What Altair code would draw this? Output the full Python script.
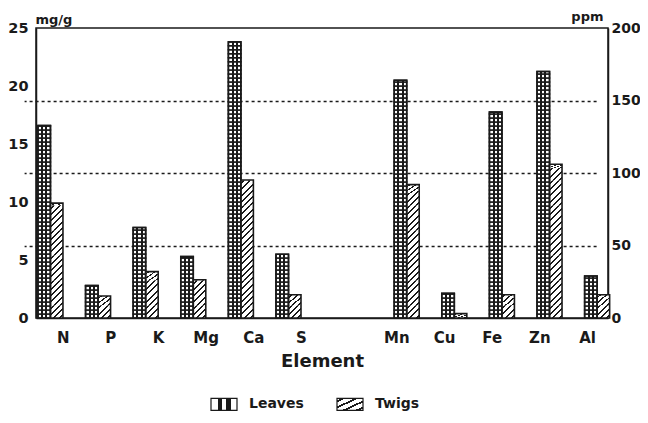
import altair as alt
import pandas as pd

# ---- data ----
elements = ["N", "P", "K", "Mg", "Ca", "S", "Mn", "Cu", "Fe", "Zn", "Al"]
units = ["mg/g"] * 6 + ["ppm"] * 5
leaves = [16.6, 2.8, 7.8, 5.3, 23.8, 5.5, 164, 17, 142, 170, 29]
twigs = [9.9, 1.9, 4.0, 3.3, 11.9, 2.0, 92, 3, 16, 106, 16]
parts = ["Leaves", "Twigs"]
x_domain = elements[:6] + [" "] + elements[6:]
mg_ticks = [0, 5, 10, 15, 20, 25]
ppm_ticks = [0, 50, 100, 150, 200]

rows = []
for e, u, l, t in zip(elements, units, leaves, twigs):
    rows.append({"element": e, "unit": u, "part": "Leaves", "value": l})
    rows.append({"element": e, "unit": u, "part": "Twigs", "value": t})
df = pd.DataFrame(rows)

INK = "#1a1a1a"
FONT = "DejaVu Sans"
W, H = 572, 290


def stops_js(stops):
    return "[" + ", ".join("{offset: %g, color: '%s'}" % (o, c) for o, c in stops) + "]"


grid_stops = [(0, "white"), (0.25, "white"), (0.25, INK), (0.41, INK), (0.41, "white"),
              (0.59, "white"), (0.59, INK), (0.75, INK), (0.75, "white"), (1, "white")]
hatch_stops = []
for k in range(4):
    b = k * 0.25
    hatch_stops += [(b, "white"), (b + 0.09, "white"), (b + 0.09, INK),
                    (b + 0.17, INK), (b + 0.17, "white")]
hatch_stops.append((1, "white"))

grid_expr = "{gradient: 'linear', x1: 0, y1: 0, x2: 1, y2: 0, stops: %s}" % stops_js(grid_stops)
hatch_expr = "{gradient: 'linear', x1: 0, y1: 0, x2: 1, y2: 1, stops: %s}" % stops_js(hatch_stops)

legend = alt.Legend(
    orient="none", legendX=174, legendY=362, direction="horizontal", title=None,
    symbolType="M-1,-0.46H1V0.46H-1Z", symbolSize=676, symbolStrokeColor=INK,
    symbolStrokeWidth=1.2, symbolOpacity=1, labelFont=FONT, labelFontWeight="bold",
    labelFontSize=14, labelColor=INK, labelOffset=11, columnPadding=30,
)
fill_enc = alt.Fill("part:N", scale=alt.Scale(domain=parts, range=[{"expr": grid_expr}, {"expr": hatch_expr}]),
                    legend=legend)

band = dict(domain=x_domain, paddingInner=0.475, paddingOuter=0.245, align=0.56)

# axis carrier (labels centred in each slot)
x_axis_enc = alt.X(
    "element:N",
    scale=alt.Scale(**band),
    axis=alt.Axis(title="Element", labelAngle=0, ticks=False, labelPadding=12, labelFontSize=15,
                  titleFontSize=18, titleY=48, titleBaseline="alphabetic",
                  domainColor=INK, domainWidth=1.5),
)


def x_bars(shift):
    return alt.X("element:N", scale=alt.Scale(range=[shift, W + shift], **band), axis=None)


xoff = alt.XOffset("part:N", scale=alt.Scale(domain=parts, paddingInner=0, paddingOuter=0))

mg_scale = alt.Scale(domain=[0, 25], nice=False)
ppm_scale = alt.Scale(domain=[0, 200], nice=False)
mg_axis = alt.Axis(values=mg_ticks, title="mg/g", orient="left", titleAngle=0, titleAlign="left",
                   titleX=-1, titleY=-5, titleBaseline="alphabetic", titleFontSize=13,
                   labelFontSize=14.5, labelPadding=8, ticks=False, grid=False,
                   domainColor=INK, domainWidth=1.5)
ppm_axis = alt.Axis(values=ppm_ticks, title="ppm", orient="right", titleAngle=0, titleAlign="right",
                    titleX=-5, titleY=-8, titleBaseline="alphabetic", titleFontSize=13,
                    labelFontSize=14, labelPadding=3, ticks=False, grid=True, gridDash=[3, 3],
                    gridColor=INK, gridWidth=1.5, domainColor=INK, domainWidth=1.5,
                    gridOpacity={"condition": {"test": "datum.value <= 0 || datum.value >= 200", "value": 0},
                                 "value": 1})


def group(unit, grid_step, tile_step, y_scale, y_axis, shift):
    xb = x_bars(shift)
    base = alt.Chart(df).transform_filter(alt.datum.unit == unit)
    leaves_seg = (
        base.transform_filter(alt.datum.part == "Leaves")
        .transform_calculate(seg=f"sequence(0, datum.value, {grid_step})")
        .transform_flatten(["seg"])
        .transform_calculate(seg2=f"min(datum.seg + {grid_step}, datum.value)")
        .mark_bar(stroke=INK, strokeWidth=1.5)
        .encode(x=xb, xOffset=xoff, y=alt.Y("seg:Q", scale=y_scale, axis=y_axis),
                y2="seg2:Q", fill=fill_enc)
    )
    twigs_seg = (
        base.transform_filter(alt.datum.part == "Twigs")
        .transform_calculate(seg=f"sequence(0, datum.value, {tile_step})")
        .transform_flatten(["seg"])
        .transform_calculate(seg2=f"min(datum.seg + {tile_step}, datum.value)")
        .mark_bar(strokeWidth=0)
        .encode(x=xb, xOffset=xoff, y=alt.Y("seg:Q", scale=y_scale, axis=None),
                y2="seg2:Q", fill=fill_enc)
    )
    outline = base.mark_bar(fillOpacity=0, stroke=INK, strokeWidth=1.6).encode(
        x=xb, xOffset=xoff, y=alt.Y("value:Q", scale=y_scale, axis=None)
    )
    return [leaves_seg, twigs_seg, outline]


axis_layer = alt.Chart(df).mark_point(opacity=0).encode(
    x=x_axis_enc, y=alt.Y("value:Q", axis=None)
)

layers = ([axis_layer]
          + group("mg/g", 0.345, 1.078, mg_scale, mg_axis, -11.1)
          + group("ppm", 2.76, 8.62, ppm_scale, ppm_axis, 11.9))

chart = (
    alt.layer(*layers)
    .resolve_scale(y="independent", x="independent")
    .properties(width=W, height=H, autosize=alt.AutoSizeParams(type="none"),
                padding={"left": 28, "top": 20, "right": 32, "bottom": 95},
                background="white")
    .configure_view(stroke=INK, strokeWidth=1.5)
    .configure_axis(labelFont=FONT, titleFont=FONT, labelFontWeight="bold", titleFontWeight="bold",
                    labelColor=INK, titleColor=INK)
)

chart.save("out.html", embed_options={"renderer": "svg", "actions": False})
